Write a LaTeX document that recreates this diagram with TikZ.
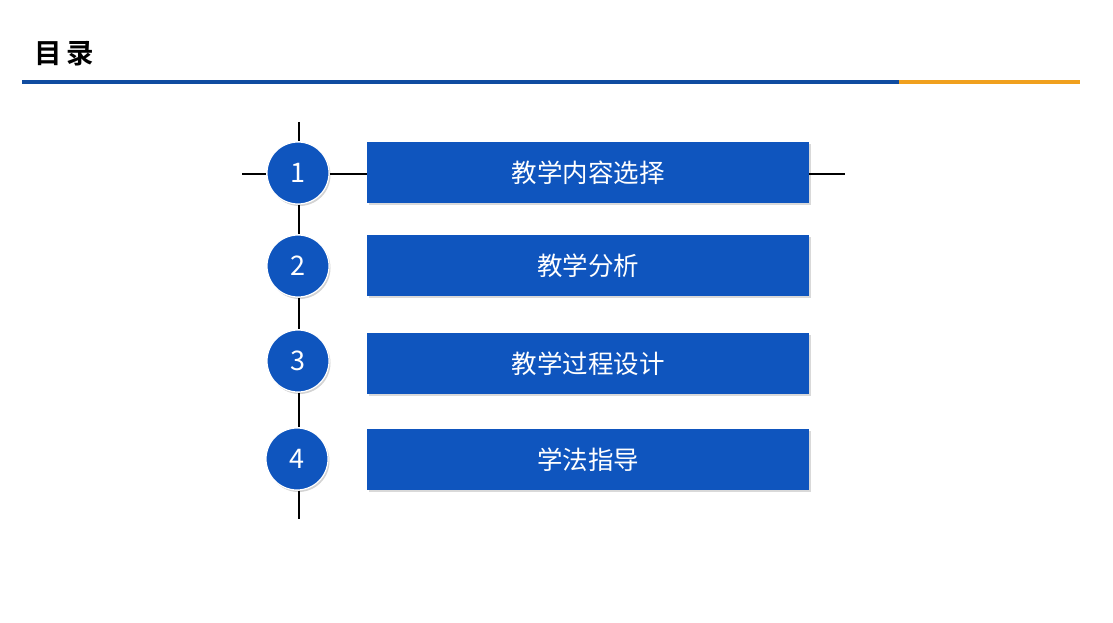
\documentclass[tikz,border=0pt]{standalone}
\usepackage{fontspec}
\setmainfont{Noto Sans CJK SC}
\newfontfamily\titlefont{Noto Sans CJK SC}[BoldFont={* Bold}]
\usetikzlibrary{positioning, calc, shadows}
\definecolor{itemblue}{RGB}{15,85,190}
\definecolor{ruleblue}{RGB}{16,76,160}
\definecolor{ruleorange}{RGB}{240,160,30}
\tikzset{
    spine/.style={line width=2pt, black},
    numdot/.style={circle, fill=itemblue, draw=white, line width=1.2pt,
        minimum size=62pt, inner sep=0pt, text=white, font=\fontsize{27}{27}\selectfont,
        drop shadow={shadow xshift=1.5pt, shadow yshift=-2pt, opacity=0.35}},
    itembox/.style={rectangle, fill=itemblue, draw=none, minimum width=442pt,
        minimum height=61pt, inner sep=0pt, text=white, font=\fontsize{25.5}{25.5}\selectfont,
        drop shadow={shadow xshift=1.5pt, shadow yshift=-2pt, opacity=0.3}}
}

\begin{document}
\begin{tikzpicture}[x=1pt, y=-1pt]
    \useasboundingbox (0,0) rectangle (1113,623);
    % Title and rule
    \node[anchor=west, font=\titlefont\bfseries\fontsize{27.5}{27.5}\selectfont] (title) at (31,54) {目\,录};
    \draw[ruleblue, line width=4pt] (22,82) -- (899,82);
    \draw[ruleorange, line width=4pt] (899,82) -- (1080,82);
    % Boxes
    \node[itembox] (b1) at (588,172.5) {教学内容选择};
    \node[itembox] (b2) at (588,265.5) {教学分析};
    \node[itembox] (b3) at (588,363.5) {教学过程设计};
    \node[itembox] (b4) at (588,459.5) {学法指导};
    % Numbered dots
    \node[numdot] (c1) at (298,173) {1};
    \node[numdot] (c2) at (298,266) {2};
    \node[numdot] (c3) at (298,361) {3};
    \node[numdot] (c4) at (297,459) {4};
    % Free ends of the lines
    \coordinate (top) at (299,122);
    \coordinate (bottom) at (299,519);
    \coordinate (left) at (242,174);
    \coordinate (right) at (845,174);
    % Lines between the dots
    \begin{scope}[on background layer/.style={}]
    \draw[spine] (top) -- (c1.north -| top);
    \draw[spine] (c1.south -| top) -- (c2.north -| top);
    \draw[spine] (c2.south -| top) -- (c3.north -| top);
    \draw[spine] (c3.south -| top) -- (c4.north -| top);
    \draw[spine] (c4.south -| top) -- (bottom);
    \draw[spine] (left) -- (c1.west |- left);
    \draw[spine] (c1.east |- left) -- (b1.west |- left);
    \draw[spine] (b1.east |- right) -- (right);
    \end{scope}
\end{tikzpicture}
\end{document}
